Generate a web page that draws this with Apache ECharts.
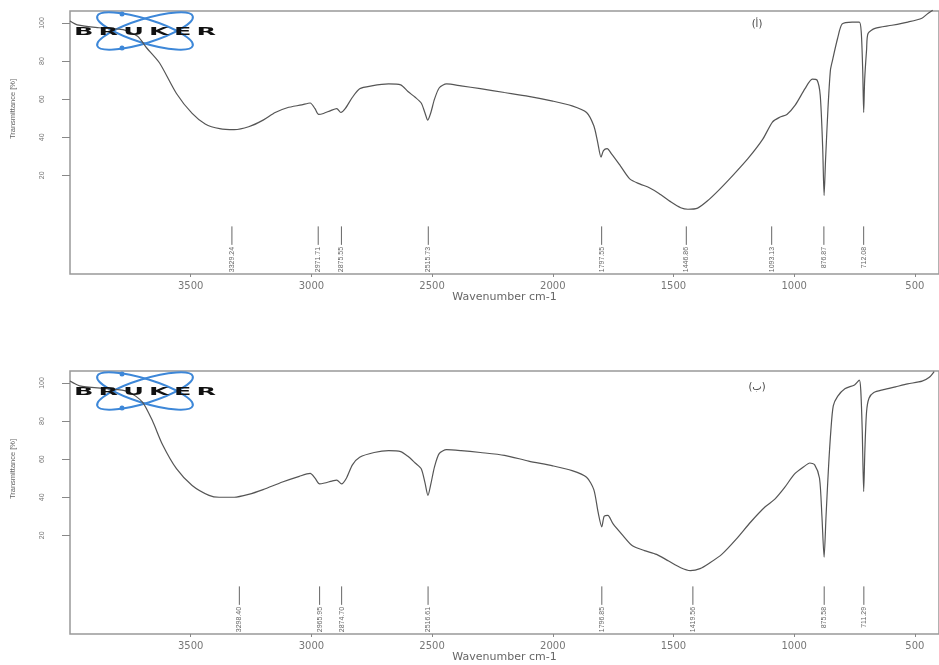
<!DOCTYPE html>
<html>
<head>
<meta charset="utf-8">
<script src="https://cdn.jsdelivr.net/npm/echarts@6/dist/echarts.min.js"></script>
<style>
  html, body { margin: 0; background: #fff; }
  #chart { width: 939px; height: 665px; }
</style>
</head>
<body>
<div id="chart"></div>
<script>
// spectrum (a) - wavenumber / transmittance pairs
const topWave = [4000, 3970, 3880, 3780, 3720, 3683, 3629, 3559, 3494, 3440, 3380, 3320, 3260, 3200, 3150, 3100, 3040, 3005, 2985, 2970, 2950, 2920, 2895, 2878, 2860, 2830, 2800, 2750, 2680, 2630, 2600, 2570, 2545, 2530, 2518, 2505, 2490, 2470, 2440, 2380, 2300, 2200, 2100, 2000, 1920, 1860, 1830, 1815, 1800, 1790, 1775, 1755, 1720, 1680, 1640, 1600, 1560, 1510, 1470, 1440, 1400, 1360, 1310, 1250, 1190, 1130, 1090, 1060, 1030, 995, 955, 925, 905, 892, 882, 876, 870, 860, 850, 842, 820, 801, 760, 730, 722, 716, 712, 708, 700, 694, 665, 595, 529, 471, 446, 426];
const topTrans = [101, 99, 97.5, 96.5, 93, 87, 79, 63, 52.5, 47, 44.5, 44, 45.5, 49, 53, 55.5, 57, 58, 55, 52, 52.5, 54, 55, 53, 55, 61, 65.5, 67, 68, 67.5, 64, 61, 58, 53, 49, 53, 60, 66, 68, 67, 65.5, 63.5, 61.5, 59, 56.5, 53, 46, 38, 29.5, 33, 34, 31, 25, 18, 15.5, 13.5, 10.5, 6, 3, 2.2, 2.8, 6.5, 12.5, 20.5, 29, 39, 48, 50.5, 52, 57, 65.5, 70.5, 70, 62, 35, 9.5, 28, 55, 75, 80, 92, 99.5, 100.5, 100.5, 95, 75, 53, 70, 86, 94.5, 97.2, 98.8, 100.5, 102.5, 105, 106.7];

// spectrum (b)
const bottomWave = [4000, 3960, 3850, 3760, 3700, 3658, 3617, 3559, 3494, 3424, 3382, 3320, 3260, 3200, 3120, 3050, 3005, 2985, 2966, 2945, 2915, 2895, 2875, 2855, 2830, 2800, 2740, 2680, 2630, 2600, 2570, 2545, 2530, 2517, 2505, 2490, 2470, 2440, 2380, 2300, 2200, 2100, 2000, 1920, 1860, 1830, 1812, 1797, 1787, 1772, 1750, 1710, 1670, 1620, 1570, 1520, 1470, 1430, 1390, 1350, 1300, 1240, 1180, 1120, 1080, 1040, 1000, 960, 935, 915, 895, 885, 876, 868, 858, 848, 838, 820, 790, 750, 730, 724, 718, 712, 707, 700, 690, 670, 630, 580, 530, 470, 440, 420];
const bottomTrans = [101, 98.5, 97, 95.5, 90, 80, 67.7, 55, 46.2, 41, 40, 40, 41.5, 44, 48, 51, 52.5, 50, 47, 47.5, 48.5, 49, 47, 50, 57, 61, 63.5, 64.5, 64, 61.5, 58, 55, 48, 41, 47, 56, 63, 65, 64.5, 63.5, 62, 59, 56.5, 54, 50.5, 44, 32, 24.5, 30, 30.5, 26, 20, 14.5, 12, 10, 6.5, 3, 1.5, 2.5, 5.5, 10, 18, 27, 35, 39, 45, 52, 56, 58, 57, 50, 30, 8.5, 30, 55, 75, 88, 93, 97, 99, 101.5, 96, 75, 43, 65, 85, 92, 95, 96.5, 98, 99.5, 101, 103, 106];

// peak picks
const topPeaks = [3329.24, 2971.71, 2875.55, 2515.73, 1797.55, 1446.86, 1093.13, 876.87, 712.08];
const bottomPeaks = [3298.40, 2965.95, 2874.70, 2516.61, 1796.85, 1419.56, 875.58, 711.29];

const xTicks = [3500, 3000, 2500, 2000, 1500, 1000, 500];
const yTicks = [20, 40, 60, 80, 100];
const panelTags = ['(أ)', '(ب)'];

const chart = echarts.init(document.getElementById('chart'));

const gridTops = [11, 371];
const yMin = -31.8;
const yMax = 106.3;

const zip = (a, b) => a.map((v, i) => [v, b[i]]);

const makeX = i => ({
  type: 'value',
  gridIndex: i,
  min: 400,
  max: 4000,
  inverse: true,
  axisLine: { show: false, onZero: false },
  splitLine: { show: false },
  axisTick: { show: true, length: 3, customValues: xTicks, lineStyle: { color: '#888' } },
  axisLabel: { customValues: xTicks, formatter: v => String(v), margin: 7, fontSize: 10, color: '#777', fontFamily: 'DejaVu Sans' },
  name: 'Wavenumber cm-1',
  nameLocation: 'middle',
  nameGap: 18,
  nameTextStyle: { fontSize: 11, color: '#666', fontFamily: 'DejaVu Sans' }
});

const makeY = i => ({
  type: 'value',
  gridIndex: i,
  min: yMin,
  max: yMax,
  axisLine: { show: false, onZero: false },
  splitLine: { show: false },
  axisTick: { show: true, length: 8, customValues: yTicks, lineStyle: { color: '#888' } },
  axisLabel: { customValues: yTicks, rotate: 90, margin: 24, fontSize: 7, color: '#777' }
});

const peakSeries = (i, peaks) => ({
  type: 'custom',
  xAxisIndex: i,
  yAxisIndex: i,
  data: peaks.map(v => [v]),
  silent: true,
  renderItem: (params, api) => {
    const w = api.value(0);
    const a = api.coord([w, -6.8]);
    const b = api.coord([w, -16.5]);
    const c = api.coord([w, -17.6]);
    return {
      type: 'group',
      children: [
        { type: 'line', shape: { x1: a[0], y1: a[1], x2: b[0], y2: b[1] }, style: { stroke: '#666', lineWidth: 1 } },
        {
          type: 'text', x: c[0], y: c[1], rotation: Math.PI / 2,
          style: { text: w.toFixed(2), fill: '#666', fontSize: 7, fontFamily: 'Liberation Sans', align: 'right', verticalAlign: 'middle' }
        }
      ]
    };
  }
});

const logo = top => ({
  type: 'group',
  z: 100,
  children: [
    { type: 'ellipse', shape: { cx: 0, cy: 0, rx: 50, ry: 12 }, x: 145, y: top + 20, rotation: 0.3, style: { fill: 'none', stroke: '#3d87d8', lineWidth: 2 } },
    { type: 'ellipse', shape: { cx: 0, cy: 0, rx: 50, ry: 12 }, x: 145, y: top + 20, rotation: -0.3, style: { fill: 'none', stroke: '#3d87d8', lineWidth: 2 } },
    { type: 'circle', shape: { cx: 122, cy: top + 3, r: 2.5 }, style: { fill: '#3d87d8' } },
    { type: 'circle', shape: { cx: 122, cy: top + 37, r: 2.5 }, style: { fill: '#3d87d8' } },
    {
      type: 'text', x: 145, y: top + 21, scaleX: 2.55, z: 101,
      style: { text: 'B\u2009R\u2009U\u2009K\u2009E\u2009R', font: 'bold 10px "DejaVu Sans"', fill: '#111', align: 'center', verticalAlign: 'middle' }
    }
  ]
});

const sideTexts = [0, 1].flatMap(i => [
  {
    type: 'text', x: 13, y: 109 + i * 360, rotation: Math.PI / 2,
    style: { text: 'Transmittance [%]', fontSize: 7.5, fontFamily: 'Liberation Sans', fill: '#666', align: 'center', verticalAlign: 'middle' }
  },
  {
    type: 'text', x: 757, y: 24 + i * 363,
    style: { text: panelTags[i], fontSize: 10, fontFamily: 'DejaVu Sans', fill: '#444', align: 'center', verticalAlign: 'middle' }
  }
]);

const option = {
  animation: false,
  backgroundColor: '#fff',
  grid: gridTops.map(t => ({
    left: 70, top: t, width: 876, height: 263,
    show: true, borderColor: '#999', borderWidth: 1.5, backgroundColor: 'transparent'
  })),
  xAxis: [makeX(0), makeX(1)],
  yAxis: [makeY(0), makeY(1)],
  graphic: [logo(11), logo(371), ...sideTexts],
  series: [
    {
      type: 'line', xAxisIndex: 0, yAxisIndex: 0,
      data: zip(topWave, topTrans),
      showSymbol: false, smooth: 0.25, clip: false,
      lineStyle: { color: '#555', width: 1.2 }
    },
    {
      type: 'line', xAxisIndex: 1, yAxisIndex: 1,
      data: zip(bottomWave, bottomTrans),
      showSymbol: false, smooth: 0.25, clip: false,
      lineStyle: { color: '#555', width: 1.2 }
    },
    peakSeries(0, topPeaks),
    peakSeries(1, bottomPeaks)
  ]
};

chart.setOption(option);
window.addEventListener('resize', () => chart.resize());
</script>
</body>
</html>
